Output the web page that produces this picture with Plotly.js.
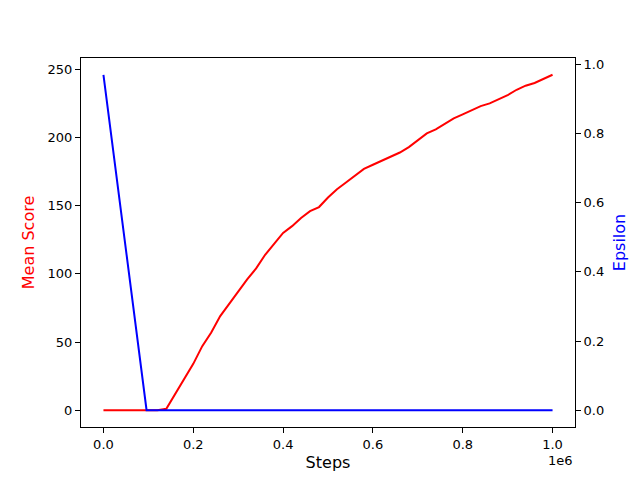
<!DOCTYPE html>
<html>
<head>
<meta charset="utf-8">
<script src="https://cdn.plot.ly/plotly-3.0.1.min.js"></script>
<style>
  body { margin: 0; background: #fff; }
  #chart { width: 640px; height: 480px; }
</style>
</head>
<body>
<div id="chart"></div>
<script>
// steps logged during training
var steps = [
  0, 20000, 40000, 60000, 80000, 100000, 120000, 140000, 160000, 180000,
  200000, 220000, 240000, 260000, 280000, 300000, 320000, 340000, 360000, 380000,
  400000, 420000, 440000, 460000, 480000, 500000, 520000, 540000, 560000, 580000,
  600000, 620000, 640000, 660000, 680000, 700000, 720000, 740000, 760000, 780000,
  800000, 820000, 840000, 860000, 880000, 900000, 920000, 940000, 960000, 980000,
  1000000
];
var meanScore = [
  0, 0, 0, 0, 0, 0, 0, 1, 12, 23,
  34, 47, 57, 69, 78, 87, 96, 104, 114, 122,
  130, 135, 141, 146, 149, 156, 162, 167, 172, 177,
  180, 183, 186, 189, 193, 198, 203, 206, 210, 214,
  217, 220, 223, 225, 228, 231, 235, 238, 240, 243,
  246
];
// epsilon decays linearly then stays at zero
var epsSteps = [0, 96000, 1000000];
var epsilon = [0.97, 0, 0];

var xTicks = [0, 200000, 400000, 600000, 800000, 1000000];
var xTickText = ["0.0", "0.2", "0.4", "0.6", "0.8", "1.0"];

var font = { family: "DejaVu Sans", size: 13, color: "#000" };

var axisStyle = {
  showgrid: false,
  zeroline: false,
  showline: true,
  linecolor: "#000",
  linewidth: 1,
  ticks: "outside",
  ticklen: 5,
  tickwidth: 1,
  tickcolor: "#000",
  tickfont: font
};

var data = [
  {
    x: steps,
    y: meanScore,
    type: "scatter",
    mode: "lines",
    line: { color: "red", width: 2 },
    yaxis: "y"
  },
  {
    x: epsSteps,
    y: epsilon,
    type: "scatter",
    mode: "lines",
    line: { color: "blue", width: 2 },
    yaxis: "y2"
  }
];

var layout = {
  width: 640,
  height: 480,
  margin: { l: 81, r: 65, t: 58, b: 53 },
  paper_bgcolor: "#fff",
  plot_bgcolor: "#fff",
  showlegend: false,
  font: font,
  xaxis: Object.assign({}, axisStyle, {
    range: [-50000, 1050000],
    tickvals: xTicks,
    ticktext: xTickText,
    mirror: true,
    title: { text: "Steps", font: { family: "DejaVu Sans", size: 16, color: "#000" }, standoff: 6 }
  }),
  yaxis: Object.assign({}, axisStyle, {
    range: [-12.3, 258.3],
    tickvals: [0, 50, 100, 150, 200, 250],
    title: { text: "Mean Score", font: { family: "DejaVu Sans", size: 16, color: "red" }, standoff: 8 }
  }),
  yaxis2: Object.assign({}, axisStyle, {
    overlaying: "y",
    side: "right",
    range: [-0.0485, 1.0185],
    tickvals: [0, 0.2, 0.4, 0.6, 0.8, 1.0],
    tickformat: ".1f",
    title: { text: "Epsilon", font: { family: "DejaVu Sans", size: 16, color: "blue" }, standoff: 10 }
  }),
  annotations: [
    {
      text: "1e6",
      xref: "paper", yref: "paper",
      x: 1, y: 0,
      xanchor: "right", yanchor: "top",
      yshift: -24,
      showarrow: false,
      font: font
    }
  ]
};

Plotly.newPlot("chart", data, layout, { displayModeBar: false, staticPlot: true });
</script>
</body>
</html>
